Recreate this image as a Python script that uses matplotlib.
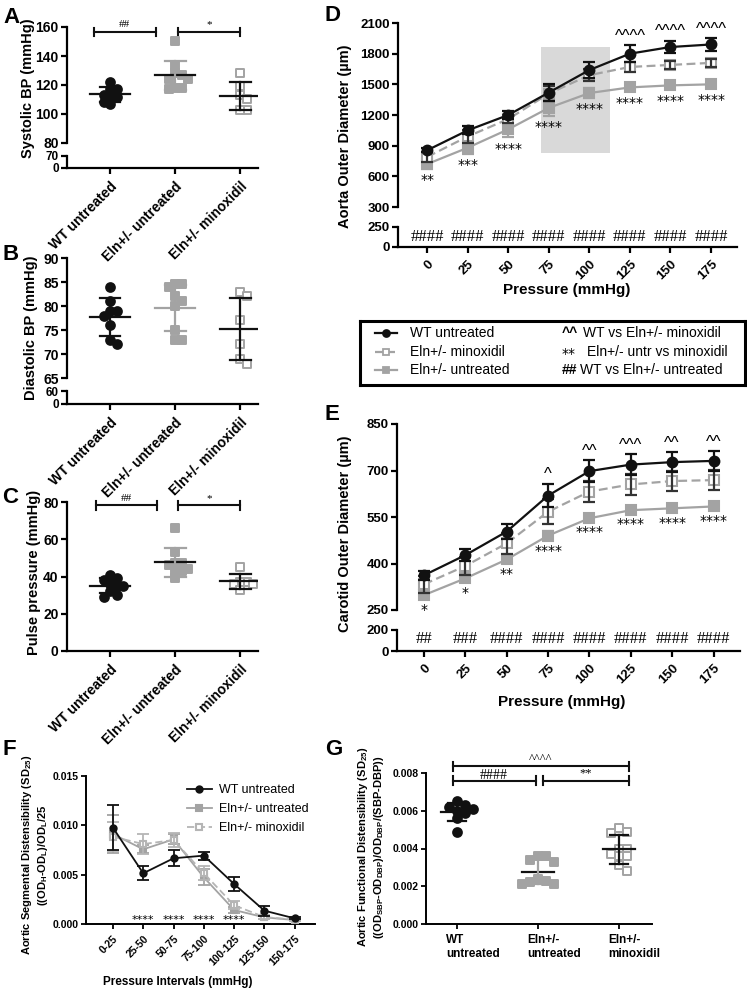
import numpy as np
import matplotlib.pyplot as plt
from matplotlib.lines import Line2D
from matplotlib.transforms import ScaledTranslation

plt.rcParams['font.family'] = ['Liberation Sans', 'DejaVu Sans']
plt.rcParams['font.weight'] = 'bold'
plt.rcParams['axes.labelweight'] = 'bold'
plt.rcParams['axes.linewidth'] = 1.6
plt.rcParams['xtick.major.width'] = 1.6
plt.rcParams['ytick.major.width'] = 1.6
plt.rcParams['xtick.major.size'] = 4.5
plt.rcParams['ytick.major.size'] = 4.5
plt.rcParams['ytick.major.pad'] = 1.5
plt.rcParams['mathtext.fontset'] = 'custom'
plt.rcParams['mathtext.rm'] = 'Liberation Sans:bold'
plt.rcParams['mathtext.default'] = 'rm'

BLACK = '#111111'
GREY = '#a3a3a3'
W, H = 747, 990

# ---------------- data ----------------
groups = ['WT untreated', 'Eln+/- untreated', 'Eln+/- minoxidil']

sbp_wt = [122, 117, 117, 113, 112, 112, 108, 107]
sbp_eln = [150, 133, 128, 127, 124, 124, 118, 117, 118]
sbp_min = [128, 119, 113, 110, 102.5, 103]

dbp_wt = [84, 81, 79, 78, 76, 73, 72, 79]
dbp_eln = [84.5, 84.5, 84, 82, 81, 80, 75, 73, 73]
dbp_min = [83, 82, 77, 72, 69, 68]

pp_wt = [41, 39, 38, 36, 35, 35, 32, 30, 29]
pp_eln = [66, 53, 47, 47, 46, 44, 43, 43, 39]
pp_min = [45, 37, 37, 36, 36, 33]

pressure = [0, 25, 50, 75, 100, 125, 150, 175]
aorta_wt = [855, 1050, 1200, 1420, 1640, 1800, 1865, 1890]
aorta_wt_err = [20, 40, 40, 80, 80, 80, 60, 60]
aorta_min = [790, 990, 1160, 1410, 1590, 1670, 1690, 1710]
aorta_min_err = [50, 60, 40, 70, 60, 50, 40, 40]
aorta_eln = [720, 880, 1060, 1270, 1415, 1470, 1490, 1500]
aorta_eln_err = [50, 60, 80, 80, 50, 40, 40, 40]
aorta_stars = ['**', '***', '****', '****', '****', '****', '****', '****']
aorta_carets = ['', '', '', '', '', '^^^^', '^^^^', '^^^^']
aorta_hash = ['####'] * 8
highlight_x = (70, 113)
highlight_y = (830, 1865)

carotid_wt = [362, 427, 503, 619, 698, 719, 727, 731]
carotid_wt_err = [15, 20, 25, 38, 35, 33, 32, 32]
carotid_min = [333, 392, 465, 567, 632, 655, 666, 669]
carotid_min_err = [28, 30, 33, 40, 35, 33, 32, 32]
carotid_eln = [298, 352, 413, 490, 546, 572, 578, 584]
carotid_eln_err = [12, 10, 12, 15, 8, 10, 10, 12]
carotid_stars = ['*', '*', '**', '****', '****', '****', '****', '****']
carotid_carets = ['', '', '', '^', '^^', '^^^', '^^', '^^']
carotid_hash = ['##', '###', '####', '####', '####', '####', '####', '####']

intervals = ['0-25', '25-50', '50-75', '75-100', '100-125', '125-150', '150-175']
sd_wt = [0.00976, 0.00514, 0.00666, 0.00693, 0.00405, 0.00135, 0.00057]
sd_wt_err = [0.0023, 0.0007, 0.0008, 0.0004, 0.0007, 0.0005, 0.0001]
sd_eln = [0.00912, 0.00757, 0.00858, 0.00473, 0.00142, 0.00067, 0.0004]
sd_eln_err = [0.0019, 0.0004, 0.0005, 0.0008, 0.0003, 0.0002, 0.0001]
sd_min = [0.00885, 0.0081, 0.00851, 0.00514, 0.0019, 0.0007, 0.00045]
sd_min_err = [0.0015, 0.001, 0.0007, 0.0007, 0.0004, 0.0002, 0.0001]
sd_stars = ['', '****', '****', '****', '****', '', '']

fd_wt = [0.0065, 0.0063, 0.0062, 0.0061, 0.0060, 0.0059, 0.0056, 0.0049]
fd_eln = [0.0036, 0.0036, 0.0034, 0.0033, 0.0024, 0.0023, 0.0022, 0.0021, 0.0021]
fd_min = [0.0051, 0.0049, 0.0048, 0.0040, 0.0040, 0.0037, 0.0036, 0.0036, 0.0031, 0.0028]


# ---------------- helpers ----------------
def px(x0, y0, x1, y1):
    return [x0 / W, 1 - y1 / H, (x1 - x0) / W, (y1 - y0) / H]


def ftext(x, y, s, **kw):
    fig.text(x / W, 1 - y / H, s, **kw)


def style(ax, bottom=True):
    ax.spines['top'].set_visible(False)
    ax.spines['right'].set_visible(False)
    if not bottom:
        ax.spines['bottom'].set_visible(False)
        ax.tick_params(axis='x', bottom=False, labelbottom=False)
    ax.patch.set_alpha(0)


def swarm(vals, ytol, step):
    order = np.argsort(vals)[::-1]
    offs = np.zeros(len(vals))
    placed = []
    for i in order:
        cand = 0
        for k in range(20):
            cand = ((k + 1) // 2) * step * (1 if k % 2 else -1)
            if all(abs(vals[i] - vals[j]) >= ytol or abs(cand - offs[j]) >= step * 0.95 for j in placed):
                break
        offs[i] = cand
        placed.append(i)
    return offs


def dots(ax, xi, vals, marker, filled, ytol, step, mean_c, sd_c, mean_hw, cap_hw):
    vals = np.asarray(vals, float)
    offs = swarm(vals, ytol, step)
    color = BLACK if marker == 'o' else GREY
    ax.scatter(xi + offs, vals, marker=marker, s=40 if marker == 'o' else 34,
               facecolor=color if filled else 'white', edgecolor=color,
               linewidths=1.4, zorder=3, clip_on=False)
    m, sd = vals.mean(), vals.std(ddof=1)
    ax.plot([xi - mean_hw, xi + mean_hw], [m, m], color=mean_c, lw=1.6, zorder=4)
    ax.plot([xi, xi], [m - sd, m + sd], color=sd_c, lw=1.6, zorder=4)
    for y in (m - sd, m + sd):
        ax.plot([xi - cap_hw, xi + cap_hw], [y, y], color=sd_c, lw=1.6, zorder=4)


def bracket(ax, x0, x1, y, h, label, fs, gap):
    kw = dict(color=BLACK, lw=1.5, clip_on=False)
    ax.plot([x0, x1], [y, y], **kw)
    ax.plot([x0, x0], [y - h, y + h], **kw)
    ax.plot([x1, x1], [y - h, y + h], **kw)
    ax.text((x0 + x1) / 2, y + gap, label, ha='center', va='bottom', fontsize=fs,
            family='Liberation Serif', weight='normal')


def curve(ax, x, y, e, color, ecolor, marker, mfc, ls, z, ms=7, lw=1.6, label=None):
    ax.errorbar(x, y, yerr=e, fmt='none', ecolor=ecolor, elinewidth=lw, capsize=4,
                capthick=lw, zorder=z, clip_on=False)
    kw = dict(dashes=(4, 2)) if ls == '--' else {}
    ax.plot(x, y, color=color, marker=marker, ms=ms, mfc=mfc, mec=color, mew=1.5,
            lw=lw, zorder=z - 0.5, clip_on=False, label=label, **kw)


def marks(ax, x, lo, hi, stars, carets, star_fs=10):
    for xi, l, h, s, c in zip(x, lo, hi, stars, carets):
        if s:
            ax.annotate(s, (xi, l), xytext=(0, -3), textcoords='offset points', ha='center',
                        va='top', fontsize=star_fs, family='DejaVu Sans', weight='normal',
                        annotation_clip=False)
        if c:
            ax.annotate(c, (xi, h), xytext=(0, 1), textcoords='offset points', ha='center',
                        va='bottom', fontsize=12, weight='normal', annotation_clip=False)


fig = plt.figure(figsize=(W / 100, H / 100), dpi=100)
fig.patch.set_facecolor('white')
xl = (-0.66, 2.27)
gx = np.arange(len(groups))

# ---------------- A ----------------
a1 = fig.add_axes(px(67, 27, 258, 143))
a2 = fig.add_axes(px(67, 156, 258, 168))
style(a1, bottom=False)
style(a2)
for a in (a1, a2):
    a.set_xlim(*xl)
a1.set_ylim(80, 160)
a1.set_yticks([80, 100, 120, 140, 160])
a2.set_ylim(0, 70)
a2.set_yticks([0, 70])
dots(a1, 0, sbp_wt, 'o', True, 4.5, 0.1, BLACK, BLACK, 0.31, 0.16)
dots(a1, 1, sbp_eln, 's', True, 4.5, 0.1, BLACK, GREY, 0.31, 0.16)
dots(a1, 2, sbp_min, 's', False, 4.5, 0.1, BLACK, BLACK, 0.31, 0.16)
bracket(a1, -0.25, 0.7, 156.6, 3, '##', 8, 2)
bracket(a1, 1.05, 2.0, 156.6, 3, '*', 8, 2)
a2.set_xticks(gx)
a2.set_xticklabels(groups, rotation=45, ha='right', rotation_mode='anchor', fontsize=10)
a1.tick_params(axis='y', labelsize=10)
a2.tick_params(axis='y', labelsize=8.5)
ftext(28, 88, 'Systolic BP (mmHg)', rotation=90, ha='center', va='center', fontsize=10.5)

# ---------------- B ----------------
b1 = fig.add_axes(px(67, 258, 258, 378))
b2 = fig.add_axes(px(67, 391, 258, 404))
style(b1, bottom=False)
style(b2)
for a in (b1, b2):
    a.set_xlim(*xl)
b1.tick_params(axis='y', labelsize=10)
b2.tick_params(axis='y', labelsize=8.5)
b1.set_ylim(65, 90)
b1.set_yticks([65, 70, 75, 80, 85, 90])
b2.set_ylim(0, 60)
b2.set_yticks([0, 60])
dots(b1, 0, dbp_wt, 'o', True, 1.5, 0.1, BLACK, BLACK, 0.31, 0.16)
dots(b1, 1, dbp_eln, 's', True, 1.5, 0.1, GREY, GREY, 0.31, 0.16)
dots(b1, 2, dbp_min, 's', False, 1.5, 0.1, BLACK, BLACK, 0.31, 0.16)
b2.set_xticks(gx)
b2.set_xticklabels(groups, rotation=45, ha='right', rotation_mode='anchor', fontsize=10)
ftext(31, 328, 'Diastolic BP (mmHg)', rotation=90, ha='center', va='center', fontsize=10.5)

# ---------------- C ----------------
c1 = fig.add_axes(px(67, 502, 258, 651))
style(c1)
c1.set_xlim(*xl)
c1.set_ylim(0, 80)
c1.set_yticks([0, 20, 40, 60, 80])
c1.tick_params(axis='y', labelsize=10)
dots(c1, 0, pp_wt, 'o', True, 3.8, 0.1, BLACK, BLACK, 0.31, 0.16)
dots(c1, 1, pp_eln, 's', True, 3.8, 0.1, BLACK, GREY, 0.31, 0.16)
dots(c1, 2, pp_min, 's', False, 3.8, 0.1, BLACK, BLACK, 0.31, 0.16)
bracket(c1, -0.22, 0.72, 78.2, 2.4, '##', 8, 1.2)
bracket(c1, 1.05, 2.0, 78.2, 2.4, '*', 8, 1.2)
c1.set_xticks(gx)
c1.set_xticklabels(groups, rotation=45, ha='right', rotation_mode='anchor', fontsize=10)
ftext(34, 572, 'Pulse pressure (mmHg)', rotation=90, ha='center', va='center', fontsize=10.5)

# ---------------- D ----------------
d1 = fig.add_axes(px(398, 23, 737, 207))
d2 = fig.add_axes(px(398, 227, 737, 247))
style(d1, bottom=False)
style(d2)
for a in (d1, d2):
    a.set_xlim(-18, 191)
    a.tick_params(axis='y', labelsize=9.5)
d1.set_ylim(300, 2100)
d1.set_yticks(range(300, 2101, 300))
d2.set_ylim(0, 250)
d2.set_yticks([0, 250])
d1.fill_between(highlight_x, highlight_y[0], highlight_y[1], color='#d9d9d9', lw=0, zorder=0)
curve(d1, pressure, aorta_eln, aorta_eln_err, GREY, GREY, 's', GREY, '-', 3)
curve(d1, pressure, aorta_min, aorta_min_err, GREY, '#333333', 's', 'white', '--', 4)
curve(d1, pressure, aorta_wt, aorta_wt_err, BLACK, BLACK, 'o', BLACK, '-', 5)
marks(d1, pressure, np.subtract(aorta_eln, aorta_eln_err), np.add(aorta_wt, aorta_wt_err),
      aorta_stars, aorta_carets)
for xi, s in zip(pressure, aorta_hash):
    d2.text(xi, 120, s, ha='center', va='center', fontsize=12, family='Liberation Serif',
            weight='normal')
d2.set_xticks(pressure)
d2.set_xticklabels([str(p) for p in pressure], rotation=45, ha='right', rotation_mode='anchor',
                   fontsize=9.5)
ftext(345, 136, 'Aorta Outer Diameter (µm)', rotation=90, ha='center', va='center', fontsize=10.5)
ftext(567, 290, 'Pressure (mmHg)', ha='center', va='center', fontsize=11)

# ---------------- legend D/E ----------------
lg = fig.add_axes(px(360, 321, 745, 385))
lg.set_xlim(0, 385)
lg.set_ylim(64, 0)
lg.set_xticks([])
lg.set_yticks([])
for s in lg.spines.values():
    s.set_linewidth(2.2)
rows = [12, 31, 49]
leg_style = [(BLACK, 'o', BLACK, '-'), (GREY, 's', 'white', '--'), (GREY, 's', GREY, '-')]
leg_names = [groups[0], groups[2], groups[1]]
for r, (col, mk, fc, ls), name in zip(rows, leg_style, leg_names):
    lg.add_line(Line2D([15, 37], [r, r], color=col, lw=1.6, ls=ls))
    lg.add_line(Line2D([26], [r], color=col, marker=mk, ms=5, mfc=fc, mec=col, mew=1.3))
    lg.text(50, r, name, va='center', fontsize=10, weight='normal')
lg.text(202, rows[0], '^^', va='center', fontsize=10)
lg.text(223, rows[0], 'WT vs Eln+/- minoxidil', va='center', fontsize=10, weight='normal')
lg.text(202, rows[1] + 2, '**', va='center', fontsize=10, family='DejaVu Sans', weight='normal')
lg.text(227, rows[1], 'Eln+/- untr vs minoxidil', va='center', fontsize=10, weight='normal')
lg.text(202, rows[2], '##', va='center', fontsize=10)
lg.text(220, rows[2], 'WT vs Eln+/- untreated', va='center', fontsize=10, weight='normal')

# ---------------- E ----------------
e1 = fig.add_axes(px(397, 424, 740, 610))
e2 = fig.add_axes(px(397, 630, 740, 651))
style(e1, bottom=False)
style(e2)
for a in (e1, e2):
    a.set_xlim(-16.3, 191)
    a.tick_params(axis='y', labelsize=9.5)
e1.set_ylim(250, 850)
e1.set_yticks([250, 400, 550, 700, 850])
e2.set_ylim(0, 200)
e2.set_yticks([0, 200])
curve(e1, pressure, carotid_eln, carotid_eln_err, GREY, GREY, 's', GREY, '-', 3)
curve(e1, pressure, carotid_min, carotid_min_err, GREY, '#333333', 's', 'white', '--', 4)
curve(e1, pressure, carotid_wt, carotid_wt_err, BLACK, BLACK, 'o', BLACK, '-', 5)
marks(e1, pressure, np.subtract(carotid_eln, carotid_eln_err), np.add(carotid_wt, carotid_wt_err),
      carotid_stars, carotid_carets)
for xi, s in zip(pressure, carotid_hash):
    e2.text(xi, 110, s, ha='center', va='center', fontsize=12, family='Liberation Serif',
            weight='normal')
e2.set_xticks(pressure)
e2.set_xticklabels([str(p) for p in pressure], rotation=45, ha='right', rotation_mode='anchor',
                   fontsize=9.5)
ftext(345, 534, 'Carotid Outer Diameter (µm)', rotation=90, ha='center', va='center', fontsize=10.5)
ftext(562, 702, 'Pressure (mmHg)', ha='center', va='center', fontsize=11)

# ---------------- F ----------------
f1 = fig.add_axes(px(86, 776, 315, 924))
style(f1)
ix = np.arange(len(intervals))
f1.set_xlim(-0.89, 6.67)
f1.set_ylim(0, 0.015)
f1.set_yticks([0, 0.005, 0.010, 0.015])
f1.set_yticklabels(['0.000', '0.005', '0.010', '0.015'])
f1.tick_params(labelsize=7.5, length=3.5, width=1.3)
for s in f1.spines.values():
    s.set_linewidth(1.4)
curve(f1, ix, sd_eln, sd_eln_err, GREY, GREY, 's', GREY, '-', 3, ms=4.5, lw=1.3, label=groups[1])
curve(f1, ix, sd_min, sd_min_err, '#b5b5b5', '#b5b5b5', 's', 'white', '--', 4, ms=4.5, lw=1.3,
      label=groups[2])
curve(f1, ix, sd_wt, sd_wt_err, BLACK, BLACK, 'o', BLACK, '-', 5, ms=4.5, lw=1.3, label=groups[0])
for xi, s in zip(ix, sd_stars):
    if s:
        f1.text(xi, 0.00045, s, ha='center', va='center', fontsize=8, family='DejaVu Sans',
                weight='normal')
f1.set_xticks(ix)
f1.set_xticklabels(intervals, rotation=45, ha='right', rotation_mode='anchor', fontsize=7.5)
h, l = f1.get_legend_handles_labels()
order = [l.index(g) for g in groups]
f1.legend([h[i] for i in order], [l[i] for i in order], loc='upper left',
          bbox_to_anchor=(0.39, 1.02), frameon=False, prop={'size': 9, 'weight': 'normal'},
          handlelength=2.0, labelspacing=0.55, handletextpad=0.6)
ftext(35, 855, 'Aortic Segmental Distensibility (SD$_{25}$)\n((OD$_{H}$-OD$_{L}$)/OD$_{L}$/25',
      rotation=90, ha='center', va='center', fontsize=8, linespacing=1.25)
ftext(178, 982, 'Pressure Intervals (mmHg)', ha='center', va='center', fontsize=8.5)

# ---------------- G ----------------
g1 = fig.add_axes(px(426, 773, 652, 924))
style(g1)
g1.set_xlim(-0.38, 2.41)
g1.set_ylim(0, 0.008)
g1.set_yticks([0, 0.002, 0.004, 0.006, 0.008])
g1.set_yticklabels(['0.000', '0.002', '0.004', '0.006', '0.008'])
g1.tick_params(axis='y', labelsize=7.5, length=3.5, width=1.3)
g1.tick_params(axis='x', length=3.5, width=1.3)
for s in g1.spines.values():
    s.set_linewidth(1.4)
dots(g1, 0, fd_wt, 'o', True, 0.0004, 0.1, BLACK, BLACK, 0.2, 0.11)
dots(g1, 1, fd_eln, 's', True, 0.0004, 0.1, BLACK, GREY, 0.2, 0.11)
dots(g1, 2, fd_min, 's', False, 0.0004, 0.1, BLACK, BLACK, 0.2, 0.11)
bracket(g1, -0.05, 2.12, 0.00835, 0.00024, '^^^^', 9, 0.00008)
bracket(g1, -0.05, 0.975, 0.00758, 0.00024, '####', 10, -0.00004)
bracket(g1, 1.06, 2.12, 0.00758, 0.00024, '**', 9, 0.00008)
g1.set_xticks(gx)
g1.set_xticklabels([g.replace(' ', '\n', 1) for g in groups], fontsize=8.5, multialignment='left')
shift = ScaledTranslation(-11 / 100, 0, fig.dpi_scale_trans)
for lab in g1.get_xticklabels():
    lab.set_ha('left')
    lab.set_transform(lab.get_transform() + shift)
ftext(371, 847, 'Aortic Functional Distensibility (SD$_{25}$)\n'
      '((OD$_{SBP}$-OD$_{DBP}$)/OD$_{DBP}$/(SBP-DBP))',
      rotation=90, ha='center', va='center', fontsize=8, linespacing=1.3)

# ---------------- panel letters ----------------
for x, y, s in [(3, 23, 'A'), (2, 260, 'B'), (2, 503, 'C'), (325, 21, 'D'),
                (325, 420, 'E'), (2, 755, 'F'), (325, 755, 'G')]:
    ftext(x, y, s, ha='left', va='baseline', fontsize=16)

fig.savefig('out.png', dpi=100)
